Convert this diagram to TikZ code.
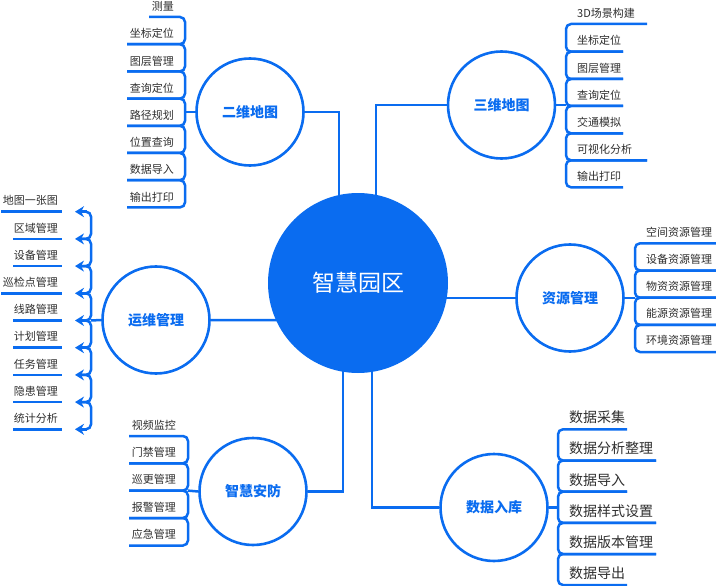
\documentclass[tikz,border=0pt]{standalone}
\usepackage{fontspec}
\setmainfont{Noto Sans CJK SC}
\usetikzlibrary{arrows.meta,backgrounds,calc}
\definecolor{mblue}{HTML}{0A6CF0}
\definecolor{itemgray}{HTML}{2E2E2E}
\begin{document}
\begin{tikzpicture}[x=1pt,y=-1pt,
  brk/.style={draw=mblue,line width=2.5pt,rounded corners=5pt},
  conn/.style={draw=mblue,line width=2.5pt},
  topic/.style={circle,draw=mblue,line width=2.6pt,fill=white,minimum size=107pt,inner sep=0pt,text=mblue,font=\fontsize{14}{16}\selectfont\bfseries},
  hub/.style={circle,fill=mblue,minimum size=180pt,inner sep=0pt,text=white,font=\fontsize{23}{26}\selectfont},
  itemL/.style={anchor=east,text=itemgray,inner sep=0pt,font=\fontsize{11}{13}\selectfont},
  itemR/.style={anchor=west,text=itemgray,inner sep=0pt,font=\fontsize{11}{13}\selectfont},
  itemB/.style={anchor=west,text=itemgray,inner sep=0pt,font=\fontsize{14}{16}\selectfont},
  tipline/.style={draw=mblue,line width=2.5pt,-{Stealth[length=9pt,width=11pt]}}
]
\useasboundingbox (0,0) rectangle (716,586);

% hub and topics
\node[hub] (zh) at (358,283) {智慧园区};
\node[topic] (erwei) at (250,112) {二维地图};
\node[topic] (sanwei) at (501.5,105) {三维地图};
\node[topic] (ziyuan) at (570,298) {资源管理};
\node[topic] (yunwei) at (156,320) {运维管理};
\node[topic] (anfang) at (253,491.5) {智慧安防};
\node[topic] (shuju) at (494,507.5) {数据入库};

% bracket junction points
\coordinate (v1) at (185,112);
\coordinate (v2) at (566,105);
\coordinate (v3) at (635,298);
\coordinate (v4) at (91,320.5);
\coordinate (v5) at (188,490.6);
\coordinate (v6) at (558,507.5);

% 二维地图 list
\foreach \t/\y/\l [count=\i, remember=\y as \py (initially 17), remember=\l as \pl (initially 149)] in
  {测量/17/149, 坐标定位/44.2/127, 图层管理/71.4/127, 查询定位/98.6/127, 路径规划/125.8/127, 位置查询/153/127, 数据导入/180.2/127, 输出打印/207.4/127}{
  \node[itemL] (a\i) at (174,\y-10.5) {\t};
  \ifnum\i>1 \draw[brk] (\pl,\py) -- (185,\py) -- (185,\y) -- (\l,\y); \fi
}

% 三维地图 list
\foreach \t/\y/\l [count=\i, remember=\y as \py (initially 24), remember=\l as \pl (initially 647)] in
  {3D场景构建/24/647, 坐标定位/51.7/623, 图层管理/79/623, 查询定位/106/623, 交通模拟/133.3/623, 可视化分析/160.3/647, 输出打印/187.3/623}{
  \node[itemR] (b\i) at (577,\y-11) {\t};
  \ifnum\i>1 \draw[brk] (\pl,\py) -- (566,\py) -- (566,\y) -- (\l,\y); \fi
}

% 资源管理 list
\foreach \t/\y [count=\i, remember=\y as \py (initially 243.3)] in
  {空间资源管理/243.3, 设备资源管理/270.5, 物资资源管理/297.7, 能源资源管理/324.9, 环境资源管理/352}{
  \node[itemR] (c\i) at (646,\y-11.5) {\t};
  \ifnum\i>1 \draw[brk] (722,\py) -- (635,\py) -- (635,\y) -- (722,\y); \fi
}

% 数据入库 list
\foreach \t/\y/\l [count=\i, remember=\y as \py (initially 429.3), remember=\l as \pl (initially 627)] in
  {数据采集/429.3/627, 数据分析整理/460.5/656, 数据导入/491.7/627, 数据样式设置/522.9/656, 数据版本管理/554/656, 数据导出/585/627}{
  \node[itemB] (d\i) at (569,\y-12) {\t};
  \ifnum\i>1 \draw[brk] (\pl,\py) -- (558,\py) -- (558,\y) -- (\l,\y); \fi
}

% 智慧安防 list
\foreach \t/\y [count=\i, remember=\y as \py (initially 436)] in
  {视频监控/436, 门禁管理/463.3, 巡更管理/490.6, 报警管理/518, 应急管理/545.5}{
  \node[itemL] (f\i) at (176,\y-11) {\t};
  \ifnum\i>1 \draw[brk] (129,\py) -- (188,\py) -- (188,\y) -- (129,\y); \fi
}

% 运维管理 list with arrows
\foreach \t/\y/\l [count=\i, remember=\y as \py (initially 211.7)] in
  {地图一张图/211.7/1, 区域管理/238.9/13, 设备管理/266.1/13, 巡检点管理/293.3/1, 线路管理/320.5/13, 计划管理/347.7/13, 任务管理/374.9/13, 隐患管理/402.1/13, 统计分析/429.3/13}{
  \node[itemL] (g\i) at (58,\y-11) {\t};
  \draw[conn] (\l,\y) -- (62,\y);
  \ifnum\i>1 \draw[brk] (80,\py) -- (91,\py) -- (91,\y) -- (80,\y); \fi
  \draw[tipline] (87,\y) -- (75,\y);
}

% connectors
\begin{pgfonlayer}{background}
\draw[conn] (erwei.east) -| ([xshift=-19pt]zh.center);
\draw[conn] (sanwei.west) -| ([xshift=18pt]zh.center);
\draw[conn] ([yshift=-15pt]zh.center) -- (ziyuan.west);
\draw[conn] (yunwei.east) -- ([yshift=-37.5pt]zh.center);
\draw[conn] (anfang.east) -| ([xshift=-15pt]zh.center);
\draw[conn] (shuju.west) -| ([xshift=14pt]zh.center);
\end{pgfonlayer}
\draw[conn] (erwei.west) -- (v1);
\draw[conn] (sanwei.east) -- (v2);
\draw[conn] (ziyuan.east) -- (v3);
\draw[conn] (yunwei.west) -- (v4);
\draw[conn] (anfang.west) -- (v5);
\draw[conn] (shuju.east) -- (v6);
\end{tikzpicture}
\end{document}
